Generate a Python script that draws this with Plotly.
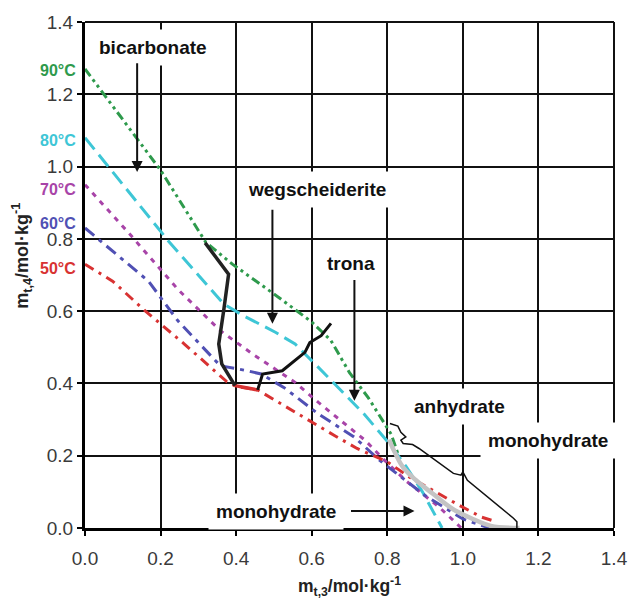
import plotly.graph_objects as go

# ---- data ----
t90_x = [0.0, 0.10, 0.20, 0.32, 0.39, 0.51, 0.60, 0.65, 0.70, 0.75, 0.81, 0.83]
t90_y = [1.27, 1.13, 0.99, 0.79, 0.73, 0.64, 0.57, 0.52, 0.43, 0.36, 0.26, 0.20]

t80_x = [0.0, 0.22, 0.367, 0.42, 0.505, 0.556, 0.617, 0.677, 0.738, 0.80, 0.85, 0.893, 0.945]
t80_y = [1.08, 0.795, 0.62, 0.587, 0.541, 0.509, 0.445, 0.38, 0.316, 0.24, 0.17, 0.10, 0.0]

t70_x = [0.0, 0.116, 0.246, 0.358, 0.444, 0.556, 0.617, 0.677, 0.742, 0.79, 0.85, 0.936, 0.996]
t70_y = [0.95, 0.816, 0.66, 0.546, 0.481, 0.403, 0.348, 0.298, 0.242, 0.19, 0.13, 0.059, 0.0]

t60_x = [0.0, 0.168, 0.246, 0.358, 0.43, 0.466, 0.526, 0.617, 0.712, 0.78, 0.90, 1.0, 1.07]
t60_y = [0.83, 0.683, 0.573, 0.449, 0.435, 0.426, 0.389, 0.316, 0.252, 0.187, 0.09, 0.025, 0.0]

t50_x = [0.0, 0.073, 0.16, 0.263, 0.375, 0.40, 0.457, 0.526, 0.591, 0.66, 0.72, 0.80, 0.86, 0.99, 1.05, 1.08]
t50_y = [0.73, 0.683, 0.60, 0.509, 0.405, 0.392, 0.382, 0.339, 0.298, 0.256, 0.22, 0.183, 0.14, 0.063, 0.03, 0.02]

t50_weg_x = [0.397, 0.457]
t50_weg_y = [0.394, 0.382]

bic_weg_x = [0.318, 0.341, 0.380, 0.367, 0.354, 0.362, 0.380, 0.397]
bic_weg_y = [0.789, 0.757, 0.702, 0.601, 0.509, 0.454, 0.422, 0.394]

weg_tro_x = [0.457, 0.470, 0.522, 0.582, 0.595, 0.625, 0.651]
weg_tro_y = [0.382, 0.426, 0.435, 0.486, 0.513, 0.532, 0.566]

anh_x = [0.805, 0.815, 0.841, 0.876, 0.919, 0.971, 1.022, 1.074, 1.15]
anh_y = [0.245, 0.22, 0.169, 0.132, 0.096, 0.054, 0.027, 0.006, 0.0]

brace_x = [0.807, 0.828, 0.836, 0.849, 0.836, 0.842, 0.867, 0.884, 0.975, 0.995, 1.0, 1.005, 1.012, 1.134, 1.143, 1.143]
brace_y = [0.289, 0.282, 0.265, 0.252, 0.243, 0.234, 0.231, 0.22, 0.151, 0.146, 0.155, 0.146, 0.132, 0.027, 0.017, 0.0]

temps = ["90°C", "80°C", "70°C", "60°C", "50°C"]
temp_label_y = [1.265, 1.072, 0.937, 0.843, 0.719]
colors = ["#2e9a4c", "#3ec6d6", "#a844a8", "#5050b4", "#d83232"]
dashes = ["9px,4px,3px,4px,3px,4px", "15px,7px", "5px,6px", "12px,6px,4px,6px", "10px,6px,3px,6px"]

xticks = [0.0, 0.2, 0.4, 0.6, 0.8, 1.0, 1.2, 1.4]
yticks = [0.0, 0.2, 0.4, 0.6, 0.8, 1.0, 1.2, 1.4]

FONT = "Liberation Sans, Arial, sans-serif"

fig = go.Figure()
series = [(t90_x, t90_y), (t80_x, t80_y), (t70_x, t70_y), (t60_x, t60_y), (t50_x, t50_y)]
for (sx, sy), c, d, nm in zip(series, colors, dashes, temps):
    fig.add_trace(go.Scatter(x=sx, y=sy, mode="lines", name=nm,
                             line=dict(color=c, width=3, dash=d)))

fig.add_trace(go.Scatter(x=t50_weg_x, y=t50_weg_y, mode="lines",
                         line=dict(color=colors[4], width=3.5)))
fig.add_trace(go.Scatter(x=anh_x, y=anh_y, mode="lines",
                         line=dict(color="#c4c4c4", width=4.5, shape="spline")))
fig.add_trace(go.Scatter(x=bic_weg_x, y=bic_weg_y, mode="lines",
                         line=dict(color="#222222", width=3.5)))
fig.add_trace(go.Scatter(x=weg_tro_x, y=weg_tro_y, mode="lines",
                         line=dict(color="#111111", width=3)))
fig.add_trace(go.Scatter(x=brace_x, y=brace_y, mode="lines",
                         line=dict(color="#111111", width=1.5)))

annotations = []
# region labels
def region(text, x, y):
    annotations.append(dict(x=x, y=y, xref="x", yref="y", text="<b>%s</b>" % text,
                            showarrow=False, bgcolor="white", borderpad=7,
                            font=dict(family=FONT, size=19, color="#111111")))

region("bicarbonate", 0.181, 1.33)
region("wegscheiderite", 0.613, 0.937)
region("trona", 0.705, 0.733)
region("anhydrate", 0.99, 0.336)
region("monohydrate", 1.225, 0.2425)
region("monohydrate", 0.506, 0.047)

def arrow(x0, y0, x1, y1):
    annotations.append(dict(x=x1, y=y1, ax=x0, ay=y0, xref="x", yref="y",
                            axref="x", ayref="y", text="", showarrow=True,
                            arrowhead=2, arrowsize=1.1, arrowwidth=2, arrowcolor="#111111"))

arrow(0.138, 1.29, 0.138, 0.985)
arrow(0.496, 0.885, 0.496, 0.565)
arrow(0.713, 0.69, 0.713, 0.352)
arrow(0.70, 0.047, 0.872, 0.047)

for t, ty, c in zip(temps, temp_label_y, colors):
    annotations.append(dict(x=-0.013, y=ty, xref="paper", yref="y", xanchor="right",
                            text="<b>%s</b>" % t, showarrow=False,
                            font=dict(family=FONT, size=16, color=c)))

annotations.append(dict(x=-0.12, y=0.537, xref="paper", yref="paper", textangle=-90,
                        xanchor="center", yanchor="middle",
                        text="<b>m<sub>t,4</sub>/mol·kg<sup>-1</sup></b>", showarrow=False,
                        font=dict(family=FONT, size=18, color="#222222")))
annotations.append(dict(x=0.5, y=0, xref="paper", yref="paper", yanchor="middle", yshift=-58,
                        text="<b>m<sub>t,3</sub>/mol·kg<sup>-1</sup></b>", showarrow=False,
                        font=dict(family=FONT, size=17.5, color="#222222")))

fig.update_layout(
    width=640, height=600,
    margin=dict(l=85, r=14, t=20, b=72),
    plot_bgcolor="white", paper_bgcolor="white",
    showlegend=False,
    annotations=annotations,
    shapes=[
        dict(type="line", xref="paper", yref="paper", x0=0, x1=1, y0=1, y1=1,
             line=dict(color="#111111", width=2)),
        dict(type="line", xref="paper", yref="paper", x0=1, x1=1, y0=0, y1=1,
             line=dict(color="#111111", width=2)),
    ],
)
fig.update_xaxes(range=[0, 1.4], tickvals=xticks, ticktext=["%.1f" % v for v in xticks],
                 showgrid=True, gridcolor="#111111", gridwidth=1.7,
                 showline=True, linecolor="#000000", linewidth=3,
                 ticks="outside", ticklen=5, tickwidth=2, tickcolor="#000000",
                 zeroline=False, ticklabelstandoff=6,
                 tickfont=dict(family=FONT, size=19, color="#3a3a3a"))
fig.update_yaxes(range=[0, 1.4], tickvals=yticks, ticktext=["%.1f" % v for v in yticks],
                 showgrid=True, gridcolor="#111111", gridwidth=1.7,
                 showline=True, linecolor="#000000", linewidth=3,
                 ticks="outside", ticklen=5, tickwidth=2, tickcolor="#000000",
                 zeroline=False,
                 tickfont=dict(family=FONT, size=19, color="#3a3a3a"))

fig.write_html("out.html")
